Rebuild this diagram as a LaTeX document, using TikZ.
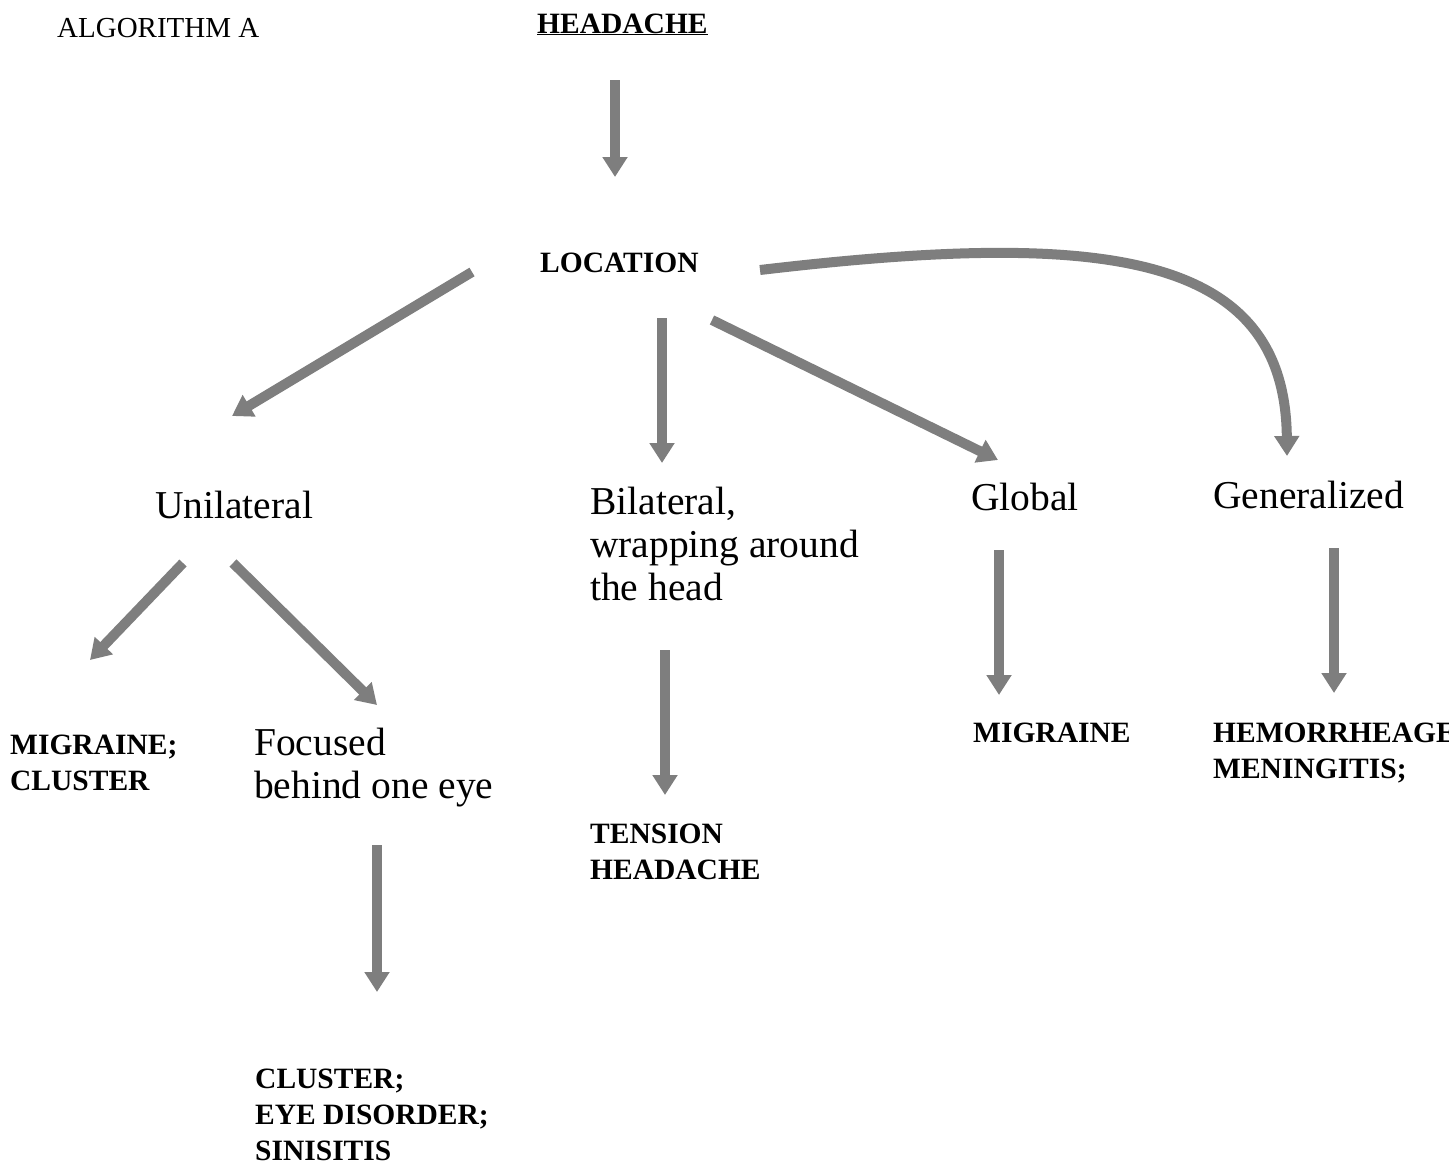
\documentclass[tikz,border=0pt]{standalone}
\usepackage{fontspec}
\setmainfont{Liberation Serif}
\usetikzlibrary{arrows.meta}
\definecolor{arrowgray}{HTML}{7E7E7E}
\tikzset{
  % multi-line nodes sit on the baseline of their last line
  plain/.style={anchor=base west, inner sep=0pt, align=left,
    font=\fontsize{39.5}{43}\selectfont},
  verdict/.style={anchor=base west, inner sep=0pt, align=left,
    font=\fontsize{29.5}{36}\selectfont\bfseries},
  blockarrow/.style={draw=arrowgray, line width=10pt,
    -{Triangle[width=24pt,length=20pt]}}
}
\begin{document}
\begin{tikzpicture}[x=1pt,y=-1pt]
\useasboundingbox (0,0) rectangle (1449,1165);
\clip (0,0) rectangle (1449,1165);

% headings
\node[anchor=base west, inner sep=0pt, font=\fontsize{29}{34}\selectfont]
  (title) at (57,37) {ALGORITHM A};
\node[verdict] (headache) at (537,33) {\underline{HEADACHE}};
\node[verdict] (location) at (540,272) {LOCATION};

% location classes
\node[plain] (uni) at (155,518) {Unilateral};
\node[plain] (bi) at (590,600) {Bilateral,\\wrapping around\\the head};
\node[plain] (glob) at (971,510) {Global};
\node[plain] (gen) at (1213,508) {Generalized};
\node[plain] (focus) at (254,798) {Focused\\behind one eye};

% diagnoses
\node[verdict] (mc) at (10,790) {MIGRAINE;\\CLUSTER};
\node[verdict] (tension) at (590,879) {TENSION\\HEADACHE};
\node[verdict] (migr) at (973,742) {MIGRAINE};
\node[verdict] (hem) at (1213,778) {HEMORRHEAGE;\\MENINGITIS;};
\node[verdict] (cluster) at (255,1160) {CLUSTER;\\EYE DISORDER;\\SINISITIS};

% arrow end points
\coordinate (h-out) at (615,80);   \coordinate (loc-in) at (615,177);
\coordinate (loc-sw) at (472,272); \coordinate (uni-in) at (232,416);
\coordinate (loc-s) at (662,318);  \coordinate (bi-in) at (662,463);
\coordinate (loc-se) at (712,320); \coordinate (glob-in) at (998,460);
\coordinate (loc-e) at (760,270);  \coordinate (gen-in) at (1287,456);
\coordinate (uni-sw) at (183,563); \coordinate (mc-in) at (90,660);
\coordinate (uni-se) at (233,563); \coordinate (focus-in) at (377,705);
\coordinate (focus-s) at (377,845); \coordinate (cluster-in) at (377,992);
\coordinate (bi-s) at (665,650);   \coordinate (tension-in) at (665,795);
\coordinate (glob-s) at (999,550); \coordinate (migr-in) at (999,695);
\coordinate (gen-s) at (1334,548); \coordinate (hem-in) at (1334,693);

% connectors
\draw[blockarrow] (h-out) -- (loc-in);
\draw[blockarrow] (loc-sw) -- (uni-in);
\draw[blockarrow] (loc-s) -- (bi-in);
\draw[blockarrow] (loc-se) -- (glob-in);
\draw[blockarrow] (loc-e) .. controls (1100,230) and (1285,250) .. (gen-in);
\draw[blockarrow] (uni-sw) -- (mc-in);
\draw[blockarrow] (uni-se) -- (focus-in);
\draw[blockarrow] (focus-s) -- (cluster-in);
\draw[blockarrow] (bi-s) -- (tension-in);
\draw[blockarrow] (glob-s) -- (migr-in);
\draw[blockarrow] (gen-s) -- (hem-in);
\end{tikzpicture}
\end{document}
